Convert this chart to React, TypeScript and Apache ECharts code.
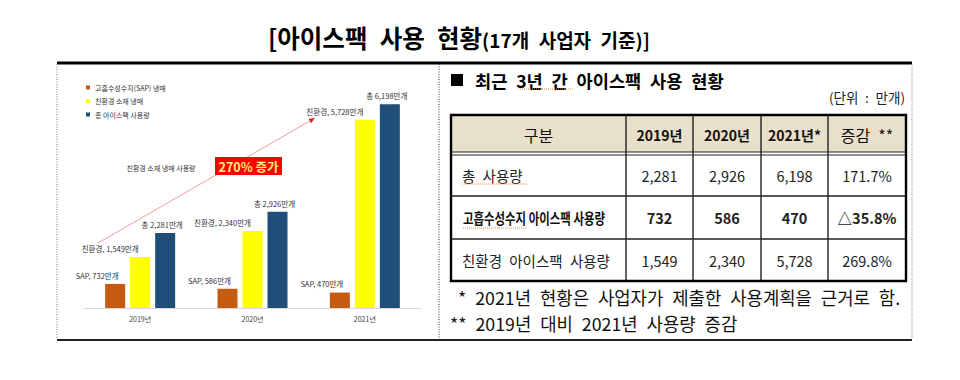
import React, { useEffect, useRef } from "react";
import * as echarts from "echarts";

// ---------- data ----------
const years = ["2019년", "2020년", "2021년"];
const sapValues = [732, 586, 470];
const ecoValues = [1549, 2340, 5728];
const totalValues = [2281, 2926, 6198];
const seriesNames = ["고흡수성수지(SAP) 냉매", "친환경 소재 냉매", "총 아이스팩 사용량"];
const labelPrefixes = ["SAP, ", "친환경, ", "총 "];
const labelSuffix = "만개";
const tableHeaders = ["구분", "2019년", "2020년", "2021년*", "증감\u2002**"];
const rowLabels = ["총\u2002사용량", "고흡수성수지 아이스팩 사용량", "친환경\u2002아이스팩\u2002사용량"];
const changeLabels = ["171.7%", "△35.8%", "269.8%"];
const annotationLabel = "친환경 소재 냉매 사용량";
const increaseLabel = "270% 증가";
const titleMain = "[아이스팩\u2002사용\u2002현황";
const titleSub = "(17개\u2002사업자\u2002기준)]";
const panelTitle = "최근\u20023년\u2002간\u2002아이스팩\u2002사용\u2002현황";
const unitLabel = "(단위\u2002:\u2002만개)";
const footnotes = [
  "*\u20022021년\u2002현황은\u2002사업자가\u2002제출한\u2002사용계획을\u2002근거로\u2002함.",
  "**\u20022019년\u2002대비\u20022021년\u2002사용량\u2002증감",
];

const FONT = '"Noto Sans CJK KR", "Noto Sans", sans-serif';
const COLORS = ["#C55A11", "#FFFF00", "#1F4E79"];

function fmt(v: number) {
  return v.toLocaleString("en-US");
}

function buildTable(): any[] {
  const els: any[] = [];
  const colX = [451, 626, 693, 761, 828, 906];
  const top = 115;
  const headBottom = 152;
  const bodyTop = 155;
  const rowY = [155, 196, 239, 281];
  const bottom = rowY[3];

  els.push({
    type: "rect",
    shape: { x: colX[0], y: top, width: colX[5] - colX[0], height: headBottom - top },
    style: { fill: "#E8E0CB" },
  });
  for (let i = 1; i < 5; i++) {
    els.push({
      type: "line",
      shape: { x1: colX[i], y1: top, x2: colX[i], y2: bottom },
      style: { stroke: "#222", lineWidth: 1.4 },
    });
  }
  [headBottom, bodyTop].forEach((y) =>
    els.push({
      type: "line",
      shape: { x1: colX[0], y1: y, x2: colX[5], y2: y },
      style: { stroke: "#222", lineWidth: 1 },
    })
  );
  [rowY[1], rowY[2]].forEach((y) =>
    els.push({
      type: "line",
      shape: { x1: colX[0], y1: y, x2: colX[5], y2: y },
      style: { stroke: "#222", lineWidth: 1.3 },
    })
  );
  els.push({
    type: "rect",
    shape: { x: colX[0], y: top, width: colX[5] - colX[0], height: bottom - top },
    style: { fill: "none", stroke: "#000", lineWidth: 2.4 },
  });

  tableHeaders.forEach((h, i) => {
    const cx = (colX[i] + colX[i + 1]) / 2;
    const isYear = i >= 1 && i <= 3;
    els.push({
      type: "text",
      x: cx,
      y: (top + headBottom) / 2 + 1,
      style: {
        text: h,
        fill: "#111",
        fontFamily: FONT,
        fontSize: isYear ? 14 : 16,
        fontWeight: isYear ? "bold" : "normal",
        textAlign: "center",
        textVerticalAlign: "middle",
      },
    });
  });

  const rows = [totalValues, sapValues, ecoValues];
  rows.forEach((vals, r) => {
    const cy = (rowY[r] + rowY[r + 1]) / 2;
    const bold = r === 1;
    if (bold) {
      els.push({
        type: "text",
        x: 463,
        y: cy,
        scaleX: 0.79,
        style: {
          text: rowLabels[r],
          fill: "#111",
          fontFamily: FONT,
          fontSize: 14.5,
          fontWeight: "bold",
          textAlign: "left",
          textVerticalAlign: "middle",
        },
      });
    } else {
      els.push({
        type: "text",
        x: 462,
        y: cy,
        style: {
          text: rowLabels[r],
          fill: "#222",
          fontFamily: FONT,
          fontSize: 14.5,
          textAlign: "left",
          textVerticalAlign: "middle",
        },
      });
    }
    const cells = [...vals.map(fmt), changeLabels[r]];
    cells.forEach((c, j) => {
      const cx = (colX[j + 1] + colX[j + 2]) / 2;
      els.push({
        type: "text",
        x: cx,
        y: cy,
        style: {
          text: c,
          fill: "#222",
          fontFamily: FONT,
          fontSize: 14.5,
          fontWeight: bold ? "bold" : "normal",
          textAlign: "center",
          textVerticalAlign: "middle",
        },
      });
    });
  });

  const wavy = [
    [518, 573, 89],
    [462, 528, 184],
    [463, 526, 228],
  ];
  wavy.forEach(([x1, x2, y]) =>
    els.push({
      type: "line",
      shape: { x1, y1: y, x2, y2: y },
      style: { stroke: "#E8923A", lineWidth: 1, lineDash: [1, 1] },
    })
  );
  return els;
}

function buildFrame(): any[] {
  const els: any[] = [];
  els.push({
    type: "line",
    shape: { x1: 57, y1: 63, x2: 912, y2: 63 },
    style: { stroke: "#000", lineWidth: 3 },
  });
  els.push({
    type: "line",
    shape: { x1: 57, y1: 340, x2: 912, y2: 340 },
    style: { stroke: "#222", lineWidth: 2 },
  });
  [57, 439, 912].forEach((x, i) =>
    els.push({
      type: "line",
      shape: { x1: x, y1: 64, x2: x, y2: 339 },
      style: { stroke: i === 1 ? "#333" : "#777", lineWidth: 1, lineDash: [1, 1.5] },
    })
  );
  els.push({
    type: "rect",
    shape: { x: 451, y: 74, width: 12, height: 12 },
    style: { fill: "#000" },
  });
  els.push({
    type: "text",
    x: 475,
    y: 80,
    style: {
      text: panelTitle,
      fill: "#000",
      fontFamily: FONT,
      fontSize: 17.6,
      fontWeight: "bold",
      textAlign: "left",
      textVerticalAlign: "middle",
    },
  });
  els.push({
    type: "text",
    x: 905,
    y: 97,
    style: {
      text: unitLabel,
      fill: "#222",
      fontFamily: FONT,
      fontSize: 13.5,
      textAlign: "right",
      textVerticalAlign: "middle",
    },
  });
  footnotes.forEach((t, i) =>
    els.push({
      type: "text",
      x: i === 0 ? 458 : 450,
      y: i === 0 ? 297 : 323,
      style: {
        text: t,
        fill: "#111",
        fontFamily: FONT,
        fontSize: 17.8,
        textAlign: "left",
        textVerticalAlign: "middle",
      },
    })
  );
  return els;
}

function buildAnnotation(): any[] {
  const els: any[] = [];
  const sx = 98, sy = 243, ex = 315, ey = 118;
  const len = Math.hypot(ex - sx, ey - sy);
  const ux = (ex - sx) / len, uy = (ey - sy) / len;
  const nx = -uy, ny = ux;
  els.push({
    type: "line",
    shape: { x1: sx, y1: sy, x2: ex - ux * 4, y2: ey - uy * 4 },
    style: { stroke: "#F29C9C", lineWidth: 1 },
  });
  const bx = ex - ux * 6, by = ey - uy * 6;
  els.push({
    type: "polygon",
    shape: {
      points: [
        [ex, ey],
        [bx + nx * 2.5, by + ny * 2.5],
        [bx - nx * 2.5, by - ny * 2.5],
      ],
    },
    style: { fill: "#E02020" },
  });
  els.push({
    type: "rect",
    shape: { x: 215, y: 157, width: 67, height: 18 },
    style: { fill: "#FF0000" },
  });
  els.push({
    type: "text",
    x: 248.5,
    y: 166.5,
    style: {
      text: increaseLabel,
      fill: "#FFF27A",
      fontFamily: FONT,
      fontSize: 12.5,
      fontWeight: "bold",
      textAlign: "center",
      textVerticalAlign: "middle",
    },
  });
  els.push({
    type: "text",
    x: 161,
    y: 168,
    style: {
      text: annotationLabel,
      fill: "#333",
      fontFamily: FONT,
      fontSize: 7,
      textAlign: "center",
      textVerticalAlign: "middle",
    },
  });
  return els;
}

export default function App() {
  const ref = useRef<HTMLDivElement>(null);
  useEffect(() => {
    document.body.style.margin = "0";
    if (!ref.current) return;
    const chart = echarts.init(ref.current, null, { renderer: "svg" });
    const seriesData = [sapValues, ecoValues, totalValues];
    const labelOffsets = [-18, -30, -3];
    chart.setOption({
      animation: false,
      backgroundColor: "#fff",
      textStyle: { fontFamily: FONT },
      title: {
        left: 268,
        top: 25,
        padding: 0,
        text: "{a|" + titleMain + "}{b|" + titleSub + "}",
        textStyle: {
          rich: {
            a: { fontSize: 24.5, fontWeight: "bold", color: "#000", fontFamily: FONT },
            b: { fontSize: 19, fontWeight: "bold", color: "#000", fontFamily: FONT, padding: [4, 0, 0, 0] },
          },
        },
      },
      legend: {
        orient: "vertical",
        left: 86,
        top: 83,
        padding: 0,
        itemWidth: 4,
        itemHeight: 4,
        itemGap: 4.5,
        icon: "rect",
        textStyle: { fontSize: 7, color: "#333", lineHeight: 9, fontFamily: FONT },
        data: seriesNames,
      },
      grid: { left: 84, right: 539, top: 78, bottom: 72 },
      xAxis: {
        type: "category",
        data: years,
        axisLine: { lineStyle: { color: "#D9D9D9" } },
        axisTick: { show: false },
        axisLabel: { fontSize: 7, color: "#404040", margin: 7, fontFamily: FONT },
      },
      yAxis: { type: "value", min: 0, max: 7000, show: false, splitLine: { show: false } },
      series: seriesNames.map((name, i) => ({
        name,
        type: "bar",
        data: seriesData[i],
        barWidth: 20,
        barGap: "25%",
        itemStyle: { color: COLORS[i] },
        label: {
          show: true,
          position: "top",
          distance: 5,
          offset: [labelOffsets[i], 0],
          fontSize: 7.5,
          color: "#333",
          fontFamily: FONT,
          formatter: (p: any) => labelPrefixes[i] + fmt(p.value) + labelSuffix,
        },
      })),
      graphic: [...buildFrame(), ...buildTable(), ...buildAnnotation()],
    });
    return () => chart.dispose();
  }, []);
  return <div ref={ref} style={{ width: 960, height: 380 }} />;
}
